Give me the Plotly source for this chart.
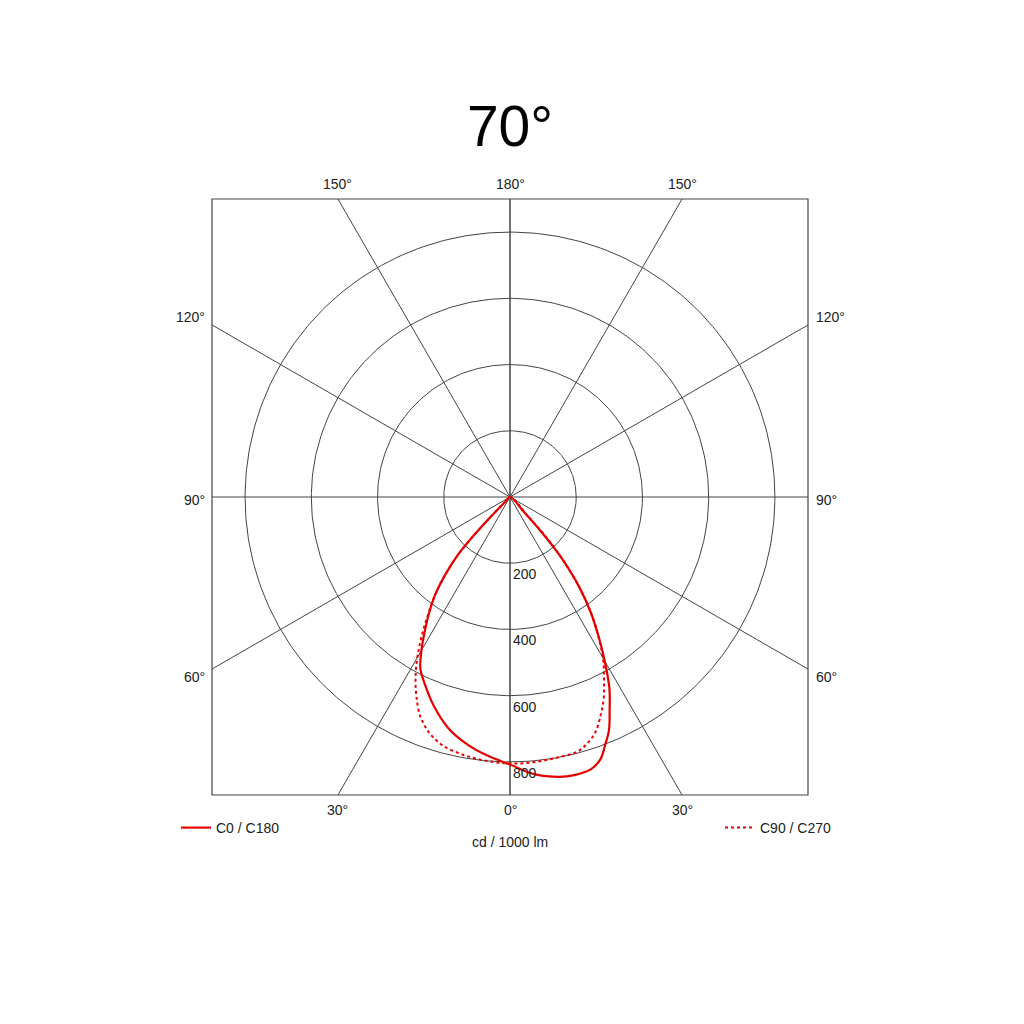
import numpy as np
import plotly.graph_objects as go

# luminous intensity, cd / 1000 lm, against gamma (deg from nadir)
gamma_c0 = [0, 5, 10, 13, 16.5, 19, 21, 23, 25, 27.5, 30, 32.5, 35, 37.5, 40, 41, 42, 43, 44]
cd_c0 = [808, 840, 858, 862, 858, 838, 802, 765, 712, 650, 572, 497, 425, 345, 250, 200, 140, 60, 0]

gamma_c180 = [0, 5, 10, 15, 20, 25, 27.5, 30, 32.5, 35, 37.5, 40, 42, 43, 44, 45, 46]
cd_c180 = [808, 784, 757, 722, 672, 615, 586, 535, 478, 425, 370, 300, 235, 180, 100, 20, 0]

gamma_c90 = [0, 5, 10, 15, 18, 20, 22.5, 25, 27.5, 30, 32.5, 35, 37.5, 40, 42, 43, 44]
cd_c90 = [805, 804, 800, 795, 775, 755, 715, 670, 615, 562, 495, 425, 345, 250, 165, 80, 0]

gamma_c270 = [0, 5, 10, 15, 18, 20, 22.5, 25, 27.5, 30, 32.5, 35, 37.5, 40, 42, 43, 44, 45, 46]
cd_c270 = [805, 800, 792, 778, 760, 742, 712, 668, 618, 560, 495, 430, 370, 300, 235, 180, 100, 20, 0]

rings = [200, 400, 600, 800]
ray_angles = [0, 30, 60, 90, 120, 150, 180]
ray_labels = ["0°", "30°", "60°", "90°", "120°", "150°", "180°"]
frame = 900  # half size of the square, cd

RED = "rgb(228,0,0)"
GRID = "#444444"
TXT = "#222222"
FONT = "Liberation Sans, Arial, sans-serif"

# page body has an 8px margin, so the figure is laid out 8px in
PAD = 8
W = H = 1024 - 2 * PAD
cx, cy = 510 - PAD, 497 - PAD
s = 298 / frame  # px per cd


def half(gam, val, side):
    g = np.radians(np.array(gam, dtype=float))
    v = np.array(val, dtype=float)
    return side * v * np.sin(g), -v * np.cos(g)


def curve(left, right):
    xl, yl = half(*left, -1)
    xr, yr = half(*right, 1)
    return np.concatenate([xl[::-1], xr[1:]]), np.concatenate([yl[::-1], yr[1:]])


fig = go.Figure()

# rings
t = np.linspace(0, 2 * np.pi, 361)
for r in rings:
    fig.add_trace(go.Scatter(x=r * np.cos(t), y=r * np.sin(t), mode="lines",
                             line=dict(color=GRID, width=1), hoverinfo="skip",
                             showlegend=False))

# rays out to the square
for a in ray_angles:
    th = np.radians(a)
    d = frame / max(abs(np.sin(th)), abs(np.cos(th)))
    for side in (-1, 1):
        fig.add_trace(go.Scatter(x=[0, side * d * np.sin(th)], y=[0, -d * np.cos(th)],
                                 mode="lines", line=dict(color=GRID, width=1),
                                 hoverinfo="skip", showlegend=False))

fig.add_shape(type="rect", x0=-frame, y0=-frame, x1=frame, y1=frame,
              line=dict(color=GRID, width=1.2))

x1, y1 = curve((gamma_c270, cd_c270), (gamma_c90, cd_c90))
fig.add_trace(go.Scatter(x=x1, y=y1, mode="lines", name="C90 / C270",
                         line=dict(color=RED, width=2, dash="dot", shape="spline"),
                         legend="legend2"))

x0, y0 = curve((gamma_c180, cd_c180), (gamma_c0, cd_c0))
fig.add_trace(go.Scatter(x=x0, y=y0, mode="lines", name="C0 / C180",
                         line=dict(color=RED, width=2.2, shape="spline"),
                         legend="legend"))

ann = []
for r in rings:
    ann.append(dict(x=0, y=-r, text=str(r), showarrow=False, xanchor="left",
                    yanchor="top", xshift=1, yshift=-1))

off = 15 / s
for a, lab in zip(ray_angles, ray_labels):
    th = np.radians(a)
    if a < 45 or a > 135:
        xe = frame * np.tan(th) if a < 90 else frame * np.tan(np.pi - th)
        ye = -frame if a < 90 else frame
        yy = ye - off if a < 90 else ye + off
        for side in ((0,) if a in (0, 180) else (-1, 1)):
            ann.append(dict(x=side * xe if side else 0, y=yy, text=lab,
                            showarrow=False, xanchor="center", yanchor="middle"))
    else:
        ye = -frame / np.tan(th) if a != 90 else 0
        ysh = {60: -8, 90: -3, 120: 8}[a]
        ann.append(dict(x=-frame, y=ye, text=lab, showarrow=False, xanchor="right",
                        yanchor="middle", xshift=-5, yshift=ysh))
        ann.append(dict(x=frame, y=ye, text=lab, showarrow=False, xanchor="left",
                        yanchor="middle", xshift=6, yshift=ysh))

ann.append(dict(x=0, y=-frame - 47 / s, text="cd / 1000 lm", showarrow=False,
                xanchor="center", yanchor="middle"))

fig.update_layout(
    width=W, height=H,
    margin=dict(l=0, r=0, t=0, b=0),
    paper_bgcolor="white", plot_bgcolor="white",
    font=dict(family=FONT, size=14, color=TXT),
    title=dict(text="70°", x=(510 - PAD) / W, xanchor="center", y=1 - (126 - PAD) / H,
               yanchor="middle", font=dict(family=FONT, size=57, color="black")),
    xaxis=dict(range=[-cx / s, (W - cx) / s], visible=False, fixedrange=True),
    yaxis=dict(range=[-(H - cy) / s, cy / s], visible=False, fixedrange=True),
    legend=dict(x=(176 - PAD) / W, y=1 - (828 - PAD) / H, xanchor="left", yanchor="middle",
                bgcolor="rgba(0,0,0,0)", font=dict(size=14), itemwidth=30),
    legend2=dict(x=(720 - PAD) / W, y=1 - (828 - PAD) / H, xanchor="left", yanchor="middle",
                 bgcolor="rgba(0,0,0,0)", font=dict(size=14), itemwidth=30),
    annotations=ann,
    showlegend=True,
)

fig.write_html("out.html")
